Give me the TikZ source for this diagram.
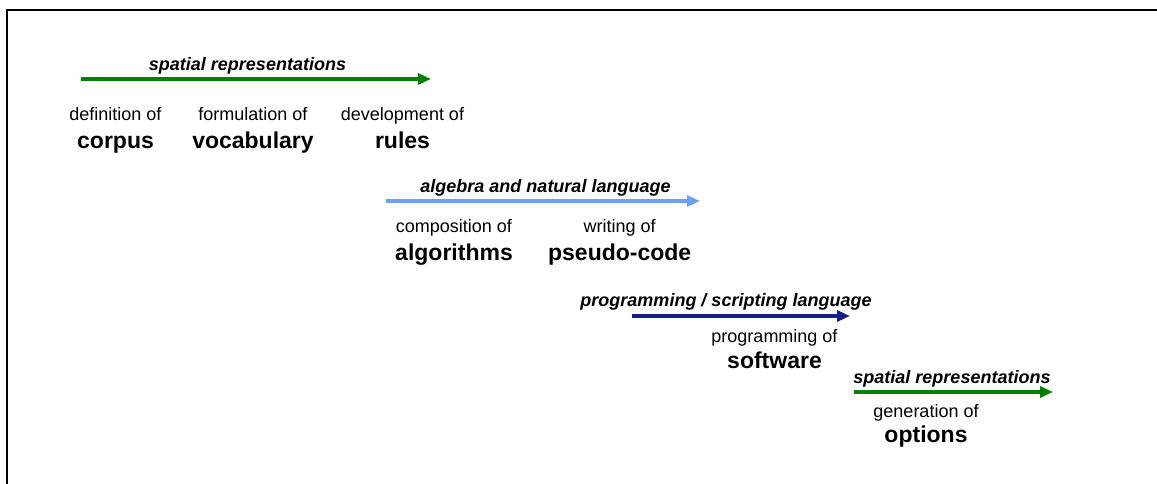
\documentclass[tikz,border=0pt]{standalone}
\usepackage{fontspec}
\setmainfont{Liberation Sans}
\usetikzlibrary{arrows.meta}
\definecolor{spatialgreen}{RGB}{0,128,0}
\definecolor{algebrablue}{RGB}{110,160,240}
\definecolor{codenavy}{RGB}{20,30,140}
\tikzset{
  verb/.style={anchor=base, inner sep=0pt, font=\fontsize{18}{20}\selectfont},
  noun/.style={anchor=base, inner sep=0pt, font=\fontsize{23}{26}\selectfont\bfseries},
  medium/.style={anchor=base, inner sep=0pt, font=\fontsize{18}{20}\selectfont\bfseries\itshape},
  flow/.style={line width=3.5pt, -{Triangle[length=13pt,width=11pt]}},
}
\begin{document}
\begin{tikzpicture}[x=1pt, y=-1pt]
\useasboundingbox (0,0) rectangle (1157,484);
\begin{scope}
\clip (0,0) rectangle (1157,484);
\draw[line width=2.5pt] (7,500) -- (7,10) -- (1170,10);
\end{scope}

% spatial representations: corpus, vocabulary, rules
\coordinate (s1a) at (81,79);
\coordinate (s1b) at (431,79);
\draw[flow, spatialgreen] (s1a) -- (s1b);
\node[medium] (m1) at (247.5,71) {spatial representations};
\node[verb] (v1) at (115.5,121) {definition of};
\node[noun] (n1) at (115.5,149) {corpus};
\node[verb] (v2) at (253,121) {formulation of};
\node[noun] (n2) at (253,149) {vocabulary};
\node[verb] (v3) at (402.5,121) {development of};
\node[noun] (n3) at (402.5,149) {rules};

% algebra and natural language: algorithms, pseudo-code
\coordinate (s2a) at (386,201);
\coordinate (s2b) at (700,201);
\draw[flow, algebrablue] (s2a) -- (s2b);
\node[medium] (m2) at (545.5,193) {algebra and natural language};
\node[verb] (v4) at (454,233) {composition of};
\node[noun] (n4) at (454,260) {algorithms};
\node[verb] (v5) at (619.7,233) {writing of};
\node[noun] (n5) at (619.7,260) {pseudo-code};

% programming / scripting language: software
\coordinate (s3a) at (632,316);
\coordinate (s3b) at (850,316);
\draw[flow, codenavy] (s3a) -- (s3b);
\node[medium] (m3) at (726,306) {programming / scripting language};
\node[verb] (v6) at (774.5,342) {programming of};
\node[noun] (n6) at (774.5,368) {software};

% spatial representations: options
\coordinate (s4a) at (854,392);
\coordinate (s4b) at (1053,392);
\draw[flow, spatialgreen] (s4a) -- (s4b);
\node[medium] (m4) at (952,383) {spatial representations};
\node[verb] (v7) at (926,417) {generation of};
\node[noun] (n7) at (926,442) {options};
\end{tikzpicture}
\end{document}
